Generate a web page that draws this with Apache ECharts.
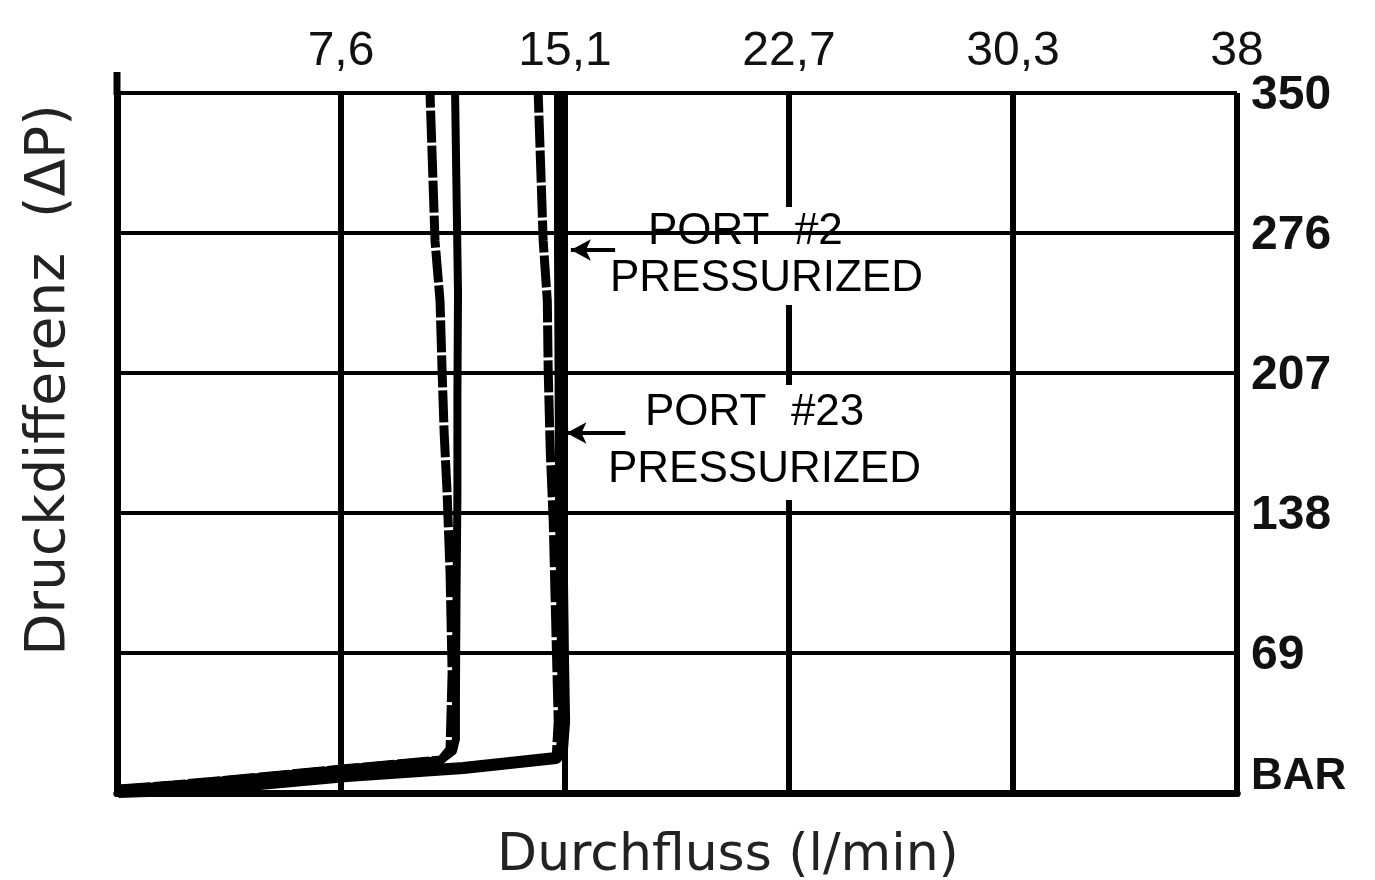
<!DOCTYPE html>
<html>
<head>
<meta charset="utf-8">
<script src="https://cdn.jsdelivr.net/npm/echarts@6/dist/echarts.min.js"></script>
<style>
  html, body { margin: 0; padding: 0; background: #fff; }
  #chart { width: 1375px; height: 880px; }
</style>
</head>
<body>
<div id="chart"></div>
<script>
// ---- Data (flow l/min, differential pressure bar) ----
const xTickLabels = ['', '7,6', '15,1', '22,7', '30,3', '38'];
const yTickLabels = ['BAR', '69', '138', '207', '276', '350'];

const leftSolid = [[0.05,2],[1.9,4],[4.85,8],[7.8,12.2],[11.0,16.5],[11.4,21],[11.5,27],[11.5,50],[11.52,100],[11.55,150],[11.55,200],[11.57,250],[11.52,300],[11.47,350]];
const leftDashed = [[0.05,2],[1.9,4],[4.85,8],[7.8,12.2],[11.0,16.5],[11.3,22],[11.37,60],[11.3,110],[11.2,150],[11.1,180],[11.03,211],[10.96,246],[10.79,276],[10.62,350]];
const rightSolid = [[0.05,0.5],[2,1.5],[4.85,4.5],[7.8,8.5],[11.75,12.5],[14.9,17.5],[15.1,22],[15.17,36],[15.13,69],[15.07,138],[15.05,207],[15.03,276],[15.03,350]];
const rightDashed = [[0.05,0.5],[2,1.5],[4.85,4.5],[7.8,8.5],[11.75,12.5],[14.9,17.5],[14.97,36],[14.9,76],[14.8,136],[14.7,171],[14.63,211],[14.6,246],[14.46,276],[14.29,350]];

// annotation arrows (data coords: [xStart, xEnd, y])
const arrowPort2 = [15.4, 16.9, 271.5];
const arrowPort23 = [15.25, 17.25, 180];

const chart = echarts.init(document.getElementById('chart'), null, { renderer: 'canvas' });

const labelFont = "'Liberation Sans', Arial, sans-serif";

const option = {
  backgroundColor: '#fff',
  animation: false,
  grid: { left: 117, right: 138, top: 93, bottom: 87, containLabel: false },
  xAxis: [
    {
      type: 'value', position: 'top', min: 0, max: 38, interval: 7.6, z: 0,
      axisLine: { show: true, lineStyle: { color: '#000', width: 7 } },
      axisTick: { show: false },
      splitLine: { show: true, lineStyle: { color: '#000', width: 6 } },
      axisLabel: {
        show: true, margin: 17, color: '#111', fontSize: 48, fontFamily: labelFont,
        formatter: function (v, i) { return xTickLabels[Math.round(v / 7.6)] || ''; }
      }
    },
    {
      type: 'value', position: 'bottom', min: 0, max: 38, interval: 7.6, z: 0,
      axisLine: { show: true, lineStyle: { color: '#000', width: 7 } },
      axisTick: { show: false }, splitLine: { show: false }, axisLabel: { show: false }
    }
  ],
  yAxis: [
    {
      type: 'value', position: 'right', min: 0, max: 350, interval: 70, z: 2,
      axisLine: { show: true, lineStyle: { color: '#000', width: 5 } },
      axisTick: { show: false },
      splitLine: { show: true, lineStyle: { color: '#000', width: 4 } },
      axisLabel: {
        show: true, margin: 14, color: '#111', fontSize: 48, fontWeight: 'bold', fontFamily: labelFont,
        padding: [6, 0, 0, 0],
        formatter: function (v) {
          const s = yTickLabels[Math.round(v / 70)] || '';
          return v === 0 ? '{b|' + s + '}' : s;
        },
        rich: { b: { fontSize: 44, fontWeight: 'bold', fontFamily: labelFont, color: '#111', padding: [0, 0, 38, 0] } }
      }
    },
    {
      type: 'value', position: 'left', min: 0, max: 350, interval: 70, z: 2,
      axisLine: { show: true, lineStyle: { color: '#000', width: 7 } },
      axisTick: { show: false }, splitLine: { show: false }, axisLabel: { show: false }
    }
  ],
  graphic: [
    { type: 'rect', z: 1, shape: { x: 600, y: 207, width: 335, height: 98 }, style: { fill: '#fff' } },
    { type: 'rect', z: 1, shape: { x: 600, y: 385, width: 335, height: 115 }, style: { fill: '#fff' } },
    { type: 'line', z: 5, shape: { x1: 117, y1: 72, x2: 117, y2: 95 }, style: { stroke: '#000', lineWidth: 7 } },
    { type: 'text', z: 1, x: 648, y: 232, style: { text: 'PORT  #2', fill: '#000', font: "44px 'Liberation Sans', Arial, sans-serif", textAlign: 'left', textVerticalAlign: 'middle', align: 'left', verticalAlign: 'middle' } },
    { type: 'text', z: 1, x: 610, y: 279, style: { text: 'PRESSURIZED', fill: '#000', font: "44px 'Liberation Sans', Arial, sans-serif", textAlign: 'left', textVerticalAlign: 'middle', align: 'left', verticalAlign: 'middle' } },
    { type: 'text', z: 1, x: 645, y: 413, style: { text: 'PORT  #23', fill: '#000', font: "44px 'Liberation Sans', Arial, sans-serif", textAlign: 'left', textVerticalAlign: 'middle', align: 'left', verticalAlign: 'middle' } },
    { type: 'text', z: 1, x: 608, y: 470, style: { text: 'PRESSURIZED', fill: '#000', font: "44px 'Liberation Sans', Arial, sans-serif", textAlign: 'left', textVerticalAlign: 'middle', align: 'left', verticalAlign: 'middle' } },
    { type: 'text', z: 1, x: 50, y: 380, rotation: Math.PI / 2, style: { text: 'Druckdifferenz  (\u0394P)', fill: '#222', font: "55px 'DejaVu Sans', sans-serif", textAlign: 'center', textVerticalAlign: 'middle', align: 'center', verticalAlign: 'middle' } },
    { type: 'text', z: 1, x: 728, y: 856, style: { text: 'Durchfluss (l/min)', fill: '#222', font: "52px 'DejaVu Sans', sans-serif", textAlign: 'center', textVerticalAlign: 'middle', align: 'center', verticalAlign: 'middle' } }
  ],
  series: [
    {
      name: 'leftSolid', type: 'line', xAxisIndex: 0, yAxisIndex: 0, z: 4, showSymbol: false, silent: true,
      data: leftSolid, lineStyle: { color: '#000', width: 8, join: 'round' }
    },
    {
      name: 'leftDashed', type: 'line', xAxisIndex: 0, yAxisIndex: 0, z: 4, showSymbol: false, silent: true,
      data: leftDashed, lineStyle: { color: '#000', width: 9, type: [32, 3] }
    },
    {
      name: 'rightSolid', type: 'line', xAxisIndex: 0, yAxisIndex: 0, z: 4, showSymbol: false, silent: true,
      data: rightSolid, lineStyle: { color: '#000', width: 12, join: 'round' },
      markLine: {
        silent: true, symbol: ['arrow', 'none'], symbolSize: [16, 20], animation: false,
        label: { show: false },
        lineStyle: { color: '#000', width: 4, type: 'solid' },
        data: [
          [{ coord: [arrowPort2[0], arrowPort2[2]] }, { coord: [arrowPort2[1], arrowPort2[2]] }],
          [{ coord: [arrowPort23[0], arrowPort23[2]] }, { coord: [arrowPort23[1], arrowPort23[2]] }]
        ]
      }
    },
    {
      name: 'rightDashed', type: 'line', xAxisIndex: 0, yAxisIndex: 0, z: 4, showSymbol: false, silent: true,
      data: rightDashed, lineStyle: { color: '#000', width: 9, type: [32, 3] }
    }
  ]
};
chart.setOption(option);
</script>
</body>
</html>
